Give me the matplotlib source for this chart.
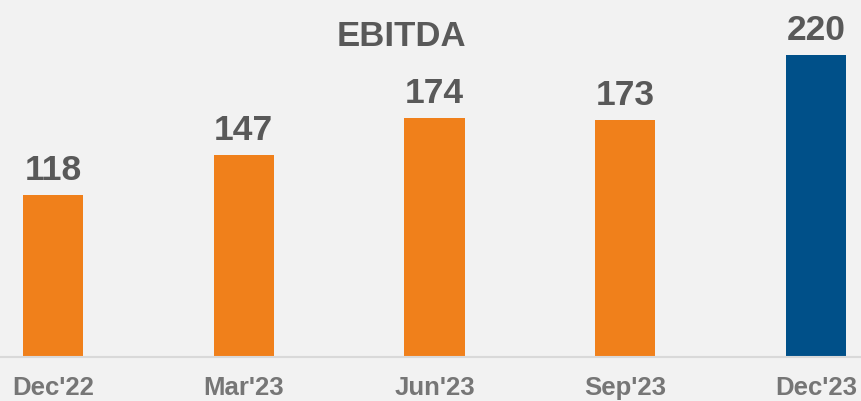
import matplotlib.pyplot as plt

quarters = ["Dec'22", "Mar'23", "Jun'23", "Sep'23", "Dec'23"]
ebitda = [118, 147, 174, 173, 220]
colors = ['#F0801B', '#F0801B', '#F0801B', '#F0801B', '#005089']

plt.rcParams['font.family'] = ['Liberation Sans', 'DejaVu Sans']

fig = plt.figure(figsize=(8.61, 4.02), dpi=100)
fig.patch.set_facecolor('#F2F2F2')
ax = fig.add_axes([0, 44 / 402, 1, 358 / 402])
ax.set_facecolor('#F2F2F2')

x = range(len(quarters))
ax.bar(x, ebitda, width=0.315, color=colors)

# value labels above bars
for i, v in enumerate(ebitda):
    ax.annotate(str(v), (i, v), xytext=(0, 16), textcoords='offset pixels',
                ha='center', va='baseline', fontsize=25.5, fontweight='bold',
                color='#595959')

ax.set_xlim(-0.278, 4.236)
ax.set_ylim(0, 358 / (302 / 220))
ax.set_xticks(list(x))
ax.set_xticklabels(quarters, fontsize=18.5, fontweight='bold', color='#767676')
ax.tick_params(axis='x', length=0, pad=13)
ax.set_yticks([])
for s in ['top', 'left', 'right']:
    ax.spines[s].set_visible(False)
ax.spines['bottom'].set_color('#D9D9D9')
ax.spines['bottom'].set_linewidth(1.5)

fig.text(401 / 861, 1 - 46 / 402, 'EBITDA', ha='center', va='baseline',
         fontsize=25, fontweight='bold', color='#595959')

fig.savefig('out.png', dpi=100, facecolor=fig.get_facecolor())
